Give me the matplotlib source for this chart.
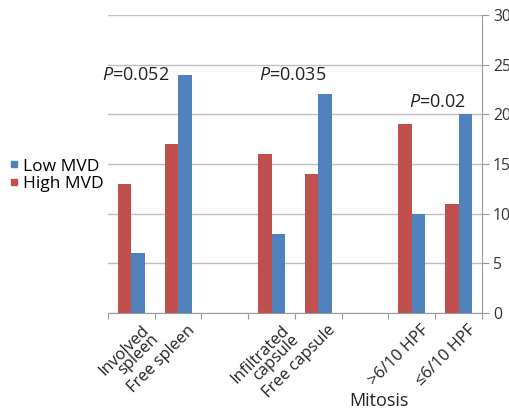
import matplotlib.pyplot as plt
from matplotlib.lines import Line2D
import numpy as np

plt.rcParams['font.family'] = ['Open Sans', 'DejaVu Sans']
plt.rcParams['mathtext.fontset'] = 'custom'
plt.rcParams['mathtext.it'] = 'Open Sans:italic'
plt.rcParams['mathtext.rm'] = 'Open Sans'

# data
categories = ['Involved\nspleen', 'Free spleen', '', 'Infiltrated\ncapsule', 'Free capsule', '', '>6/10 HPF', '≤6/10 HPF']
high_mvd = [13, 17, np.nan, 16, 14, np.nan, 19, 11]
low_mvd = [6, 24, np.nan, 8, 22, np.nan, 10, 20]
p_labels = ['0.052', '0.035', '0.02']
p_pos = [(0.1, 24.0), (3.45, 24.0), (6.55, 21.2)]

red = '#C0504D'
blue = '#4F81BD'

fig = plt.figure(figsize=(5.1, 4.15), dpi=100)
ax = fig.add_axes([108 / 510, 1 - 313 / 415, 374 / 510, 298 / 415])

x = np.arange(len(categories))
w = 0.29
ax.bar(x - w / 2, high_mvd, w, color=red, zorder=3)
ax.bar(x + w / 2, low_mvd, w, color=blue, zorder=3)

ax.set_xlim(-0.5, len(categories) - 0.5)
ax.set_ylim(0, 30)
ax.yaxis.tick_right()
ax.set_yticks(range(0, 31, 5))
ax.grid(axis='y', color='#BFBFBF', lw=1, zorder=0)
ax.tick_params(axis='y', length=5, color='#999999', labelsize=11.3, pad=3, labelcolor='#333333')

ax.set_xticks(np.arange(-0.5, len(categories), 1.0))
ax.set_xticklabels([])
ax.tick_params(axis='x', length=4, color='#999999')

for s in ['top', 'left']:
    ax.spines[s].set_visible(False)
ax.spines['right'].set_color('#999999')
ax.spines['bottom'].set_color('#999999')

for i, lab in enumerate(categories):
    if lab:
        ax.text(i + 0.2, -0.9, lab, rotation=45, ha='right', va='top',
                rotation_mode='anchor', fontsize=11.8, linespacing=0.8, color='#222222')

ax.text(5.3, -8.9, 'Mitosis', fontsize=13, ha='center', va='center', color='#222222', clip_on=False)

for (px, py), pl in zip(p_pos, p_labels):
    ax.text(px, py, r'$\mathit{P}$=' + pl, ha='center', va='center', fontsize=13, color='#222222')

handles = [Line2D([], [], ls='none', marker='s', ms=4, color=blue),
           Line2D([], [], ls='none', marker='s', ms=4, color=red)]
fig.legend(handles, ['Low MVD', 'High MVD'], loc='center left', bbox_to_anchor=(0.0, 1 - 175 / 415),
           frameon=False, fontsize=12.5, handlelength=0.4, handletextpad=0.35,
           labelspacing=0.05, borderaxespad=0.2)

fig.savefig('out.png', dpi=100)
